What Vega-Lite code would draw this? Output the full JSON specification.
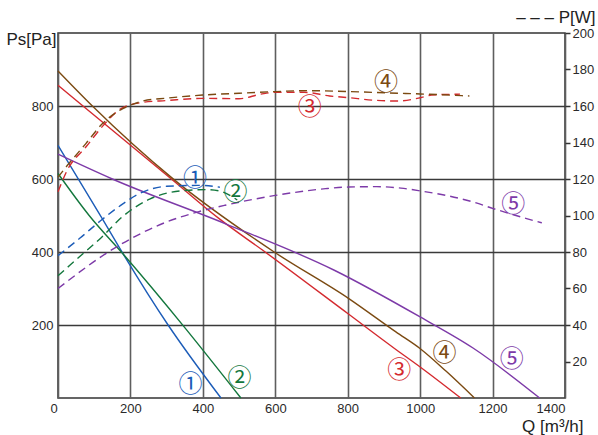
{
  "$schema": "https://vega.github.io/schema/vega-lite/v6.json",
  "width": 507,
  "height": 365,
  "autosize": {"type": "none"},
  "padding": {"left": 58, "top": 33, "right": 33, "bottom": 37},
  "background": "white",
  "config": {
    "view": {"stroke": "#333333", "strokeWidth": 1.5},
    "font": "Liberation Sans",
    "axis": {"labelFont": "Liberation Sans", "titleFont": "Liberation Sans", "labelFontSize": 13, "labelColor": "#2a2a2a", "titleColor": "#222222", "titleFontWeight": "normal", "titleFontSize": 17}
  },
  "datasets": {
    "pa": [
      {"fan": "1", "q": 0, "pa": 692}, {"fan": "1", "q": 123, "pa": 490}, {"fan": "1", "q": 181, "pa": 393}, {"fan": "1", "q": 304, "pa": 200}, {"fan": "1", "q": 450, "pa": 0},
      {"fan": "2", "q": 0, "pa": 615}, {"fan": "2", "q": 86, "pa": 500}, {"fan": "2", "q": 181, "pa": 393}, {"fan": "2", "q": 345, "pa": 199}, {"fan": "2", "q": 505, "pa": 0},
      {"fan": "3", "q": 0, "pa": 857}, {"fan": "3", "q": 69, "pa": 800}, {"fan": "3", "q": 313, "pa": 600}, {"fan": "3", "q": 444, "pa": 492}, {"fan": "3", "q": 572, "pa": 400}, {"fan": "3", "q": 802, "pa": 230}, {"fan": "3", "q": 933, "pa": 133}, {"fan": "3", "q": 1000, "pa": 85}, {"fan": "3", "q": 1112, "pa": 0},
      {"fan": "4", "q": 0, "pa": 896}, {"fan": "4", "q": 95, "pa": 800}, {"fan": "4", "q": 317, "pa": 601}, {"fan": "4", "q": 600, "pa": 398}, {"fan": "4", "q": 802, "pa": 273}, {"fan": "4", "q": 933, "pa": 181}, {"fan": "4", "q": 1003, "pa": 133}, {"fan": "4", "q": 1072, "pa": 73}, {"fan": "4", "q": 1150, "pa": 0},
      {"fan": "5", "q": 0, "pa": 668}, {"fan": "5", "q": 150, "pa": 600}, {"fan": "5", "q": 461, "pa": 478}, {"fan": "5", "q": 763, "pa": 350}, {"fan": "5", "q": 1000, "pa": 222}, {"fan": "5", "q": 1146, "pa": 137}, {"fan": "5", "q": 1330, "pa": 0}
    ],
    "pw": [
      {"fan": "1", "q": 0, "w": 78}, {"fan": "1", "q": 60, "w": 87.5}, {"fan": "1", "q": 120, "w": 97.5}, {"fan": "1", "q": 180, "w": 106.5}, {"fan": "1", "q": 225, "w": 112}, {"fan": "1", "q": 300, "w": 116}, {"fan": "1", "q": 390, "w": 116.5}, {"fan": "1", "q": 447, "w": 115.5},
      {"fan": "2", "q": 0, "w": 67}, {"fan": "2", "q": 60, "w": 77.5}, {"fan": "2", "q": 120, "w": 88}, {"fan": "2", "q": 179, "w": 99.5}, {"fan": "2", "q": 253, "w": 109}, {"fan": "2", "q": 355, "w": 113.8}, {"fan": "2", "q": 410, "w": 114.2}, {"fan": "2", "q": 445, "w": 113.5}, {"fan": "2", "q": 495, "w": 108.5},
      {"fan": "3", "q": 0, "w": 113}, {"fan": "3", "q": 26, "w": 125}, {"fan": "3", "q": 77, "w": 137.5}, {"fan": "3", "q": 128, "w": 150}, {"fan": "3", "q": 174, "w": 158.6}, {"fan": "3", "q": 234, "w": 162}, {"fan": "3", "q": 300, "w": 163}, {"fan": "3", "q": 400, "w": 164.2}, {"fan": "3", "q": 500, "w": 164}, {"fan": "3", "q": 560, "w": 166.5}, {"fan": "3", "q": 600, "w": 167.5}, {"fan": "3", "q": 680, "w": 167.5}, {"fan": "3", "q": 750, "w": 165.5}, {"fan": "3", "q": 801, "w": 164.6}, {"fan": "3", "q": 870, "w": 163.2}, {"fan": "3", "q": 938, "w": 162.7}, {"fan": "3", "q": 1000, "w": 164.5}, {"fan": "3", "q": 1031, "w": 166}, {"fan": "3", "q": 1110, "w": 166.5},
      {"fan": "4", "q": 0, "w": 121}, {"fan": "4", "q": 26, "w": 127.5}, {"fan": "4", "q": 77, "w": 139.4}, {"fan": "4", "q": 123, "w": 150.4}, {"fan": "4", "q": 179, "w": 158.6}, {"fan": "4", "q": 211, "w": 161.3}, {"fan": "4", "q": 234, "w": 162.7}, {"fan": "4", "q": 300, "w": 164.3}, {"fan": "4", "q": 399, "w": 166}, {"fan": "4", "q": 500, "w": 167}, {"fan": "4", "q": 600, "w": 167.9}, {"fan": "4", "q": 688, "w": 168.4}, {"fan": "4", "q": 801, "w": 167.9}, {"fan": "4", "q": 938, "w": 167}, {"fan": "4", "q": 1001, "w": 166.6}, {"fan": "4", "q": 1136, "w": 165.5},
      {"fan": "5", "q": 0, "w": 60}, {"fan": "5", "q": 155, "w": 82}, {"fan": "5", "q": 294, "w": 96}, {"fan": "5", "q": 387, "w": 102}, {"fan": "5", "q": 461, "w": 105.6}, {"fan": "5", "q": 600, "w": 111}, {"fan": "5", "q": 739, "w": 114.7}, {"fan": "5", "q": 802, "w": 115.6}, {"fan": "5", "q": 880, "w": 115.8}, {"fan": "5", "q": 947, "w": 115}, {"fan": "5", "q": 1003, "w": 113.4}, {"fan": "5", "q": 1072, "w": 111}, {"fan": "5", "q": 1146, "w": 107.4}, {"fan": "5", "q": 1202, "w": 103.8}, {"fan": "5", "q": 1294, "w": 98.3}, {"fan": "5", "q": 1336, "w": 96}
    ],
    "labels": [
      {"fan": "1", "q": 378, "pa": 608, "txt": "①"}, {"fan": "1", "q": 366, "pa": 45, "txt": "①"},
      {"fan": "2", "q": 490, "pa": 570, "txt": "②"}, {"fan": "2", "q": 501, "pa": 60, "txt": "②"},
      {"fan": "3", "q": 695, "pa": 802, "txt": "③"}, {"fan": "3", "q": 942, "pa": 81, "txt": "③"},
      {"fan": "4", "q": 906, "pa": 870, "txt": "④"}, {"fan": "4", "q": 1067, "pa": 129, "txt": "④"},
      {"fan": "5", "q": 1257, "pa": 537, "txt": "⑤"}, {"fan": "5", "q": 1253, "pa": 111, "txt": "⑤"}
    ]
  },
  "layer": [
    {
      "data": {"name": "pa"},
      "mark": {"type": "line", "strokeWidth": 1.4, "interpolate": "monotone"},
      "encoding": {
        "x": {"field": "q", "type": "quantitative", "scale": {"domain": [0, 1400], "nice": false},
          "axis": {"values": [0, 200, 400, 600, 800, 1000, 1200, 1400], "format": "d", "ticks": false, "domain": false, "labelPadding": 4,
            "labelOffset": {"condition": {"test": "datum.value === 0", "value": -8}, "value": 0},
            "grid": true, "gridColor": "#5e5e5e", "gridWidth": 1.6,
            "title": "Q [m³/h]", "titleAnchor": null, "titleAlign": "right", "titleX": 525, "titleY": 33, "titleBaseline": "alphabetic"}},
        "y": {"field": "pa", "type": "quantitative", "scale": {"domain": [0, 1000], "nice": false},
          "axis": {"orient": "left", "values": [200, 400, 600, 800], "ticks": false, "domain": false, "labelPadding": 5,
            "grid": true, "gridColor": "#3a3a3a", "gridWidth": 1.6,
            "title": "Ps[Pa]", "titleAngle": 0, "titleAlign": "right", "titleX": -2, "titleY": 11, "titleBaseline": "alphabetic"}},
        "color": {"field": "fan", "type": "nominal", "legend": null,
          "scale": {"domain": ["1", "2", "3", "4", "5"], "range": ["#1c5cb8", "#13773d", "#d42a2f", "#7b4a12", "#7d3aa8"]}},
        "detail": {"field": "fan"}
      }
    },
    {
      "data": {"name": "pw"},
      "mark": {"type": "line", "strokeWidth": 1.4, "strokeDash": [8, 5], "interpolate": "monotone"},
      "encoding": {
        "x": {"field": "q", "type": "quantitative"},
        "y": {"field": "w", "type": "quantitative", "scale": {"domain": [0, 200], "nice": false},
          "axis": {"orient": "right", "values": [20, 40, 60, 80, 100, 120, 140, 160, 180, 200], "grid": false, "domain": false,
            "ticks": true, "tickSize": 5, "tickColor": "#333333", "tickWidth": 1.5, "labelPadding": 2,
            "title": "– – – P[W]", "titleAngle": 0, "titleAlign": "right", "titleX": 30, "titleY": -11, "titleBaseline": "alphabetic"}},
        "color": {"field": "fan", "type": "nominal", "legend": null,
          "scale": {"domain": ["1", "2", "3", "4", "5"], "range": ["#1c5cb8", "#13773d", "#d42a2f", "#7b4a12", "#7d3aa8"]}},
        "detail": {"field": "fan"}
      }
    },
    {
      "data": {"name": "labels"},
      "mark": {"type": "text", "font": "Noto Sans CJK JP", "fontSize": 24, "align": "center", "baseline": "middle", "dy": 3},
      "encoding": {
        "x": {"field": "q", "type": "quantitative"},
        "y": {"field": "pa", "type": "quantitative", "scale": {"domain": [0, 1000], "nice": false}, "axis": null},
        "text": {"field": "txt"},
        "color": {"field": "fan", "type": "nominal", "legend": null,
          "scale": {"domain": ["1", "2", "3", "4", "5"], "range": ["#1c5cb8", "#13773d", "#d42a2f", "#7b4a12", "#7d3aa8"]}}
      }
    }
  ],
  "resolve": {"scale": {"y": "independent"}}
}
